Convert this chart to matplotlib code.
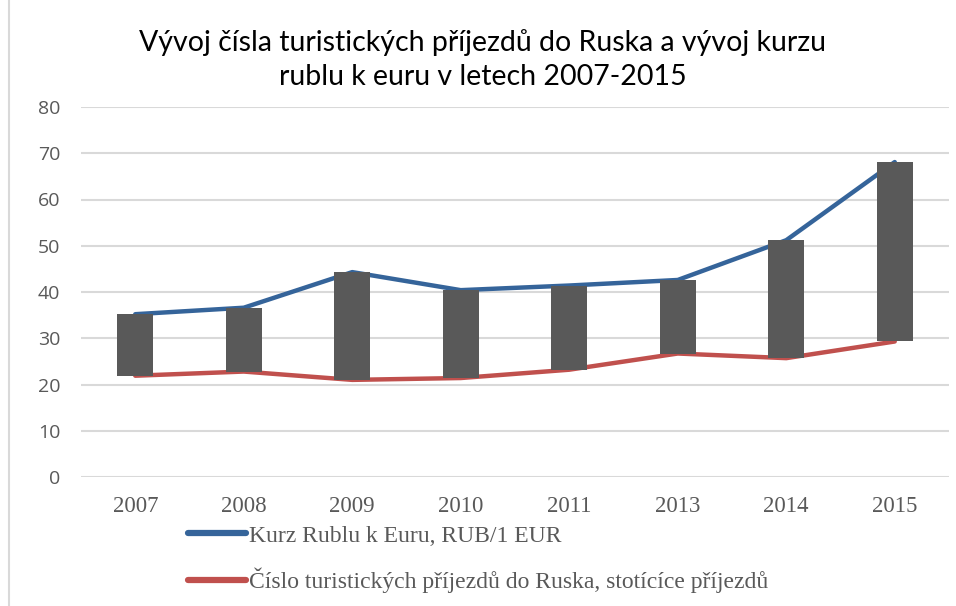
import matplotlib
matplotlib.use("Agg")
import matplotlib.pyplot as plt
from matplotlib.lines import Line2D
import numpy as np

years = ["2007", "2008", "2009", "2010", "2011", "2013", "2014", "2015"]
kurz = [35.2, 36.6, 44.3, 40.4, 41.4, 42.6, 51.2, 68.1]
prijezdy = [21.9, 22.8, 21.0, 21.4, 23.2, 26.7, 25.7, 29.3]
yticks = [0, 10, 20, 30, 40, 50, 60, 70, 80]
title = "Vývoj čísla turistických příjezdů do Ruska a vývoj kurzu\nrublu k euru v letech 2007-2015"
label_kurz = "Kurz Rublu k Euru, RUB/1 EUR"
label_prij = "Číslo turistických příjezdů do Ruska, stotícíce příjezdů"

blue = "#35649A"
red = "#C0504D"
bar_c = "#595959"
grey_txt = "#595959"

fig = plt.figure(figsize=(9.56, 6.06), dpi=100)
ax = fig.add_axes([81/956, 1-477/606, (949-81)/956, (477-107)/606])

x = np.arange(len(years))
ax.plot(x, kurz, color=blue, lw=3.2, zorder=2, solid_capstyle="round")
ax.plot(x, prijezdy, color=red, lw=3.2, zorder=2, solid_capstyle="round")
lo = np.minimum(kurz, prijezdy)
hi = np.maximum(kurz, prijezdy)
ax.bar(x, hi - lo, bottom=lo, width=0.33, color=bar_c, zorder=3)

ax.set_xlim(-0.5, len(years) - 0.5)
ax.set_ylim(0, 80)
ax.set_yticks(yticks)
ax.set_xticks(x)
ax.set_xticklabels(years, family="Liberation Serif", fontsize=16.5, color=grey_txt)
ax.set_yticklabels([str(v) for v in yticks], family="Open Sans", fontsize=14, color=grey_txt)
ax.tick_params(axis="both", length=0)
ax.tick_params(axis="x", pad=14)
ax.tick_params(axis="y", pad=15)
ax.grid(axis="y", color="#D9D9D9", lw=1.5, zorder=0)
for s in ax.spines.values():
    s.set_visible(False)

fig.text(0.505, 0.902, title, ha="center", va="center", fontsize=20.5,
         family="Lato", color="black", linespacing=1.35)

handles = [Line2D([0], [0], color=blue, lw=4.5, solid_capstyle="round"),
           Line2D([0], [0], color=red, lw=4.5, solid_capstyle="round")]
leg = fig.legend(handles, [label_kurz, label_prij], loc="upper left",
                 bbox_to_anchor=(188/956, 1-525/606), frameon=False,
                 prop={"family": "Liberation Serif", "size": 17},
                 labelcolor=grey_txt, handlelength=2.45, handletextpad=0.12,
                 labelspacing=0.9, borderaxespad=0, borderpad=0)

fig.add_artist(Line2D([8.5/956, 8.5/956], [0, 1], color="#D9D9D9", lw=1.5,
                      transform=fig.transFigure))

fig.savefig("out.png", dpi=100)
